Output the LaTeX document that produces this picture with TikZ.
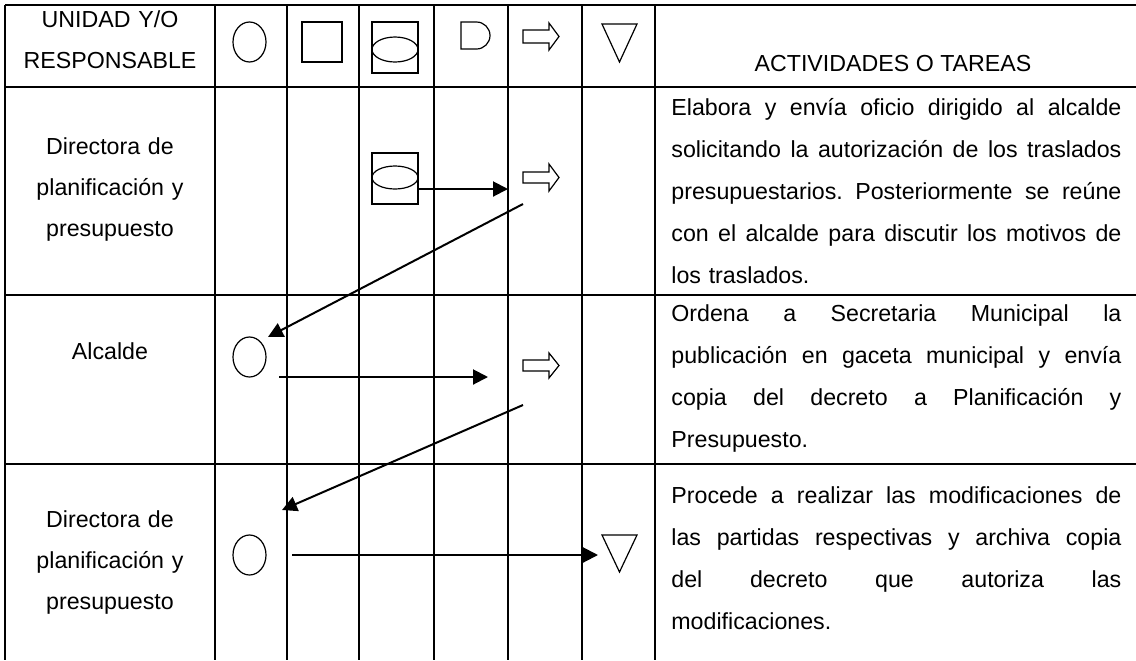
\documentclass[tikz,border=0pt]{standalone}
\usepackage{fontspec}
\setmainfont{Liberation Sans}
\usetikzlibrary{arrows.meta,shapes.geometric}
\newcommand\jline[1]{\leavevmode\hbox to 225pt{\spaceskip=0.278em plus 1fil\xspaceskip=0.278em plus 1fil\relax #1}}
\begin{document}
\frenchspacing
\begin{tikzpicture}[x=0.5pt,y=-0.5pt,
  grid/.style={line width=1pt},
  sym/.style={draw,line width=0.6pt,inner sep=0pt},
  flow/.style={line width=1pt,-{Triangle[length=7.5pt,width=7.5pt]}},
  lbl/.style={inner sep=0pt,anchor=base,text width=105pt,align=center,font=\fontsize{11.6pt}{20.5pt}\selectfont},
  act/.style={inner sep=0pt,anchor=base west,text width=225pt,align=left,font=\fontsize{11.6pt}{21pt}\selectfont}
]
\useasboundingbox (0,0) rectangle (1136,660);
% grid
\foreach \y in {5,87,295,464} \draw[grid] (5,\y) -- (1136,\y);
\foreach \x in {5,215,287,359,434,508,582,655} \draw[grid] (\x,5) -- (\x,660);
% header texts
\node[lbl] (hunidad) at (110,27) {UNIDAD Y/O\\RESPONSABLE};
\node[inner sep=0pt,anchor=base,font=\fontsize{11.6pt}{21pt}\selectfont] (hact) at (893,71) {ACTIVIDADES O TAREAS};
% header symbols
\node[sym,ellipse,minimum width=16.5pt,minimum height=20pt] (hcirc) at (249.5,42) {};
\node[sym,rectangle,minimum width=20pt,minimum height=20pt] (hsq) at (322,42) {};
\node[sym,rectangle,minimum width=23pt,minimum height=25.5pt] (hcylbox) at (395,47.5) {};
\node[sym,ellipse,minimum width=23pt,minimum height=12.5pt] (hcylell) at (395,49.5) {};
\draw[line width=0.6pt] (461,22) -- (476.5,22) arc[start angle=-90,end angle=90,radius=13.5] -- (461,49) -- cycle;
\draw[line width=0.6pt] (523,30) -- (549,30) -- (549,23) -- (559,36.5) -- (549,50) -- (549,43) -- (523,43) -- cycle;
\draw[line width=0.6pt] (602,24) -- (637,24) -- (619.5,62) -- cycle;
% row 1
\node[lbl] (r1lbl) at (110,154) {Directora de\\planificación y\\presupuesto};
\node[sym,rectangle,minimum width=23pt,minimum height=25.5pt] (cyl1) at (395,178.5) {};
\node[sym,ellipse,minimum width=23pt,minimum height=11.5pt] (cyl1e) at (395,177.5) {};
\draw[line width=0.6pt] (523,172) -- (549,172) -- (549,164) -- (559,177.5) -- (549,191) -- (549,183) -- (523,183) -- cycle;
\coordinate (a1s) at (418,189);
\coordinate (a1e) at (508,189);
\draw[flow] (a1s) -- (a1e);
\node[act] (t1) at (671,115) {%
\jline{Elabora y envía oficio dirigido al alcalde}\\
\jline{solicitando la autorización de los traslados}\\
\jline{presupuestarios. Posteriormente se reúne}\\
\jline{con el alcalde para discutir los motivos de}\\
los traslados.};
% row 2
\node[lbl] (r2lbl) at (110,359) {Alcalde};
\node[sym,ellipse,minimum width=16.5pt,minimum height=20pt] (c2) at (249.5,357) {};
\draw[line width=0.6pt] (523,360) -- (549,360) -- (549,353) -- (559,365.5) -- (549,378) -- (549,371) -- (523,371) -- cycle;
\coordinate (d1s) at (523,204);
\coordinate (d1e) at (268,337);
\draw[flow] (d1s) -- (d1e);
\coordinate (a2s) at (279,377);
\coordinate (a2e) at (488,377);
\draw[flow] (a2s) -- (a2e);
\node[act] (t2) at (671,321) {%
\jline{Ordena a Secretaria Municipal la}\\
\jline{publicación en gaceta municipal y envía}\\
\jline{copia del decreto a Planificación y}\\
Presupuesto.};
% row 3
\node[lbl] (r3lbl) at (110,527) {Directora de\\planificación y\\presupuesto};
\node[sym,ellipse,minimum width=16.5pt,minimum height=20pt] (c3) at (249.5,555) {};
\draw[line width=0.6pt] (602,535) -- (637,535) -- (619.5,572) -- cycle;
\coordinate (d2s) at (523,405);
\coordinate (d2e) at (282,510);
\draw[flow] (d2s) -- (d2e);
\coordinate (a3s) at (292,555);
\coordinate (a3e) at (598,555);
\draw[flow] (a3s) -- (a3e);
\node[act] (t3) at (671,503) {%
\jline{Procede a realizar las modificaciones de}\\
\jline{las partidas respectivas y archiva copia}\\
\jline{del decreto que autoriza las}\\
modificaciones.};
\end{tikzpicture}
\end{document}
